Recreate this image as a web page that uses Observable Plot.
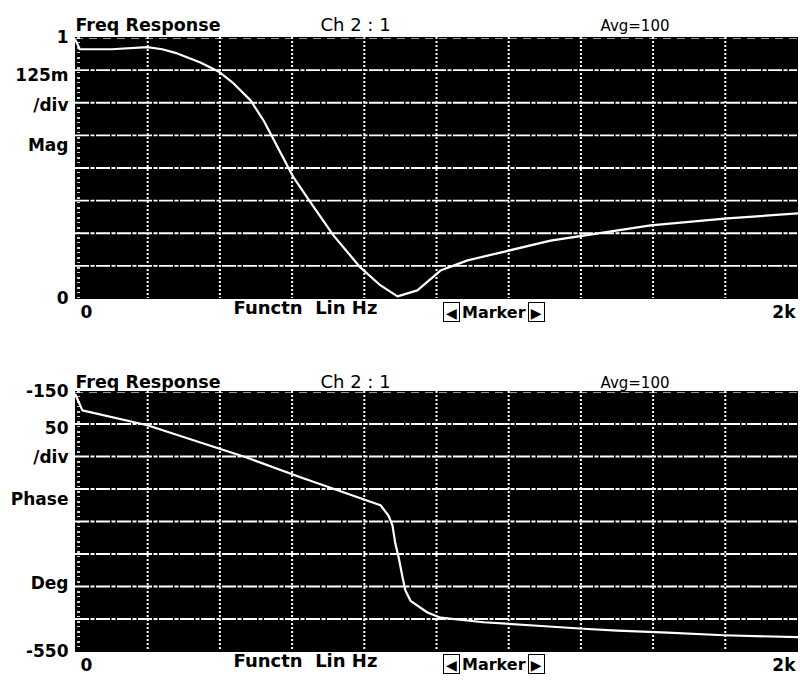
<!DOCTYPE html>
<html>
<head>
<meta charset="utf-8">
<script src="https://cdn.jsdelivr.net/npm/d3@7"></script>
<script src="https://cdn.jsdelivr.net/npm/@observablehq/plot@0.6"></script>
<style>
  html, body { margin: 0; padding: 0; background: #fff; }
  #wrap { position: relative; width: 800px; height: 682px; overflow: hidden; font-family: "DejaVu Sans", sans-serif; }
  #wrap svg { position: absolute; left: 0; }
  .marker { position: absolute; height: 22px; font-size: 16px; line-height: 22px; white-space: nowrap; color: #000; }
  .marker .box { display: inline-block; border: 1.5px solid #000; width: 17px; height: 20px; text-align: center; line-height: 20px; font-size: 14px; vertical-align: top; box-sizing: border-box; }
  .marker .lbl { display: inline-block; vertical-align: top; padding: 0 2px; font-weight: bold; }
</style>
</head>
<body>
<div id="wrap"></div>
<script>
// ---- data ----
const magFreq = [0, 12, 100, 199, 240, 282, 346, 396, 438, 485, 521, 540, 604, 651, 715, 789, 845, 892, 947, 1011, 1086, 1177, 1316, 1407, 1593, 1806, 2000];
const magValue = [0.99, 0.955, 0.955, 0.963, 0.955, 0.939, 0.904, 0.870, 0.824, 0.759, 0.682, 0.632, 0.464, 0.368, 0.241, 0.119, 0.050, 0.008, 0.031, 0.107, 0.146, 0.176, 0.222, 0.241, 0.280, 0.307, 0.326];

const phaseFreq = [0, 8, 19, 199, 476, 623, 742, 809, 845, 867, 878, 886, 895, 906, 914, 928, 975, 1011, 1130, 1269, 1407, 1501, 1640, 1795, 2000];
const phaseValue = [-155, -165, -179, -202, -252, -282, -305, -318, -325, -341, -356, -384, -405, -436, -456, -472, -490, -498, -505, -510, -515, -518, -521, -525, -528];

const xTickValues = [0, 2000];
const xTickLabels = ["0", "2k"];
const xGrid = [200, 400, 600, 800, 1000, 1200, 1400, 1600, 1800];

const magTicks = [1, 0];
const magTickLabels = ["1", "0"];
const magGrid = [0.125, 0.25, 0.375, 0.5, 0.625, 0.75, 0.875];
const magSideLabels = ["125m", "/div", "Mag"];
const magSideLevels = [0.855, 0.74, 0.585];

const phaseTicks = [-150, -550];
const phaseTickLabels = ["-150", "-550"];
const phaseGrid = [-200, -250, -300, -350, -400, -450, -500];
const phaseSideLabels = ["50", "/div", "Phase", "Deg"];
const phaseSideLevels = [-207, -251, -316, -445];

const titleTexts = ["Freq Response", "Ch 2 : 1", "Avg=100"];
const footerText = "Functn  Lin Hz";

const magData = magFreq.map((f, i) => ({f, v: magValue[i]}));
const phaseData = phaseFreq.map((f, i) => ({f, v: phaseValue[i]}));

function panel({data, yDomain, grid, ticks, tickLabels, sideLabels, sideLevels, marginTop, marginBottom, titleDy}) {
  const fmt = v => tickLabels[ticks.indexOf(v)];
  return Plot.plot({
    width: 800,
    height: 341,
    marginLeft: 75,
    marginRight: 3,
    marginTop,
    marginBottom,
    style: {fontFamily: "DejaVu Sans, sans-serif", fontSize: "17px", background: "transparent", color: "#000", overflow: "visible"},
    x: {domain: [0, 2000], axis: null},
    y: {domain: yDomain, axis: null},
    marks: [
      Plot.frame({fill: "#000", stroke: "#000"}),
      Plot.ruleY(grid, {stroke: "#fff", strokeWidth: 1.8, strokeDasharray: "14,1.5,4,1.5"}),
      Plot.ruleX(xGrid, {stroke: "#fff", strokeWidth: 2, strokeDasharray: "2,2"}),
      Plot.ruleX([0], {stroke: "#fff", strokeWidth: 3, strokeDasharray: "2,3,1,4", strokeOpacity: 0.8, dx: 3}),
      Plot.ruleY([yDomain[1]], {stroke: "#fff", strokeWidth: 1, strokeDasharray: "8,6", strokeOpacity: 0.6, dy: 1}),
      Plot.line(data, {x: "f", y: "v", stroke: "#fff", strokeWidth: 2.2, curve: "linear"}),
      Plot.axisY({ticks, tickFormat: fmt, tickSize: 0, tickPadding: 7, label: null, fontSize: 17, fontWeight: "bold"}),
      Plot.text(sideLabels, {y: (d, i) => sideLevels[i], text: d => d, frameAnchor: "left", textAnchor: "end", dx: -7, fontSize: 17, fontWeight: "bold"}),
      Plot.axisX({ticks: [xTickValues[0]], tickFormat: () => xTickLabels[0], tickSize: 0, tickPadding: 7, label: null, textAnchor: "start", dx: 5, fontSize: 17, fontWeight: "bold"}),
      Plot.axisX({ticks: [xTickValues[1]], tickFormat: () => xTickLabels[1], tickSize: 0, tickPadding: 7, label: null, textAnchor: "end", dx: -2, fontSize: 17, fontWeight: "bold"}),
      Plot.text([footerText], {frameAnchor: "bottom-left", dx: 158, dy: 15, textAnchor: "start", fontSize: 18, fontWeight: "bold"}),
      Plot.text([titleTexts[0]], {frameAnchor: "top-left", dy: titleDy, textAnchor: "start", fontSize: 17.5, fontWeight: "bold"}),
      Plot.text([titleTexts[1]], {frameAnchor: "top-left", dx: 245, dy: titleDy, textAnchor: "start", fontSize: 18}),
      Plot.text([titleTexts[2]], {frameAnchor: "top-left", dx: 525, dy: titleDy + 2, textAnchor: "start", fontSize: 15})
    ]
  });
}

const wrap = document.getElementById("wrap");

const magChart = panel({
  data: magData, yDomain: [0, 1], grid: magGrid, ticks: magTicks, tickLabels: magTickLabels,
  sideLabels: magSideLabels, sideLevels: magSideLevels, marginTop: 37, marginBottom: 43, titleDy: -19
});
magChart.style.top = "0px";
wrap.appendChild(magChart);

const phaseChart = panel({
  data: phaseData, yDomain: [-550, -150], grid: phaseGrid, ticks: phaseTicks, tickLabels: phaseTickLabels,
  sideLabels: phaseSideLabels, sideLevels: phaseSideLevels, marginTop: 50, marginBottom: 31, titleDy: -16
});
phaseChart.style.top = "341px";
wrap.appendChild(phaseChart);

function addMarker(topPx) {
  const m = document.createElement("div");
  m.className = "marker";
  m.style.left = "443px";
  m.style.top = topPx + "px";
  m.innerHTML = '<span class="box">\u25C0</span><span class="lbl">Marker</span><span class="box">\u25B6</span>';
  wrap.appendChild(m);
}
addMarker(302);
addMarker(654);
</script>
</body>
</html>
